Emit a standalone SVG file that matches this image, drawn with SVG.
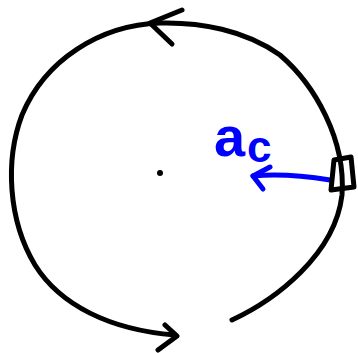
<svg xmlns="http://www.w3.org/2000/svg" width="358" height="353" viewBox="0 0 358 353">
<style>
.ink{fill:none;stroke:#000;stroke-width:5;stroke-linecap:round;stroke-linejoin:round}
.blue{fill:none;stroke:#0000ff;stroke-width:5;stroke-linecap:round;stroke-linejoin:round}
.lbl{fill:#0000ff;font-family:"Liberation Sans",Arial,sans-serif;font-weight:bold}
</style>
<rect width="358" height="353" fill="#fff"/>
<g id="connectors">
<path class="ink" d="M232,320 C275,300 335,255 342,195 C346,140 315,85 280,55 C245,30 200,22 160,23 C100,25 45,60 22,115 C5,160 8,220 35,265 C60,305 110,330 175,335"/>
<path class="ink" d="M182,10 L150,23 L172,44"/>
<path class="ink" d="M165,325 L177,336 L158,350"/>
<path class="blue" d="M330,180 C305,176 275,174 253,176"/>
<path class="blue" d="M270,167 L253,176 L263,189"/>
</g>
<g id="center">
<circle cx="160" cy="173" r="3" fill="#000"/>
</g>
<g id="object">
<path class="ink" d="M334,160 L351,157 L354,187 L331,190 Z"/>
</g>
<g id="label">
<text class="lbl" x="214" y="156" font-size="56">a</text>
<text class="lbl" x="247" y="162" font-size="44">c</text>
</g>
</svg>
